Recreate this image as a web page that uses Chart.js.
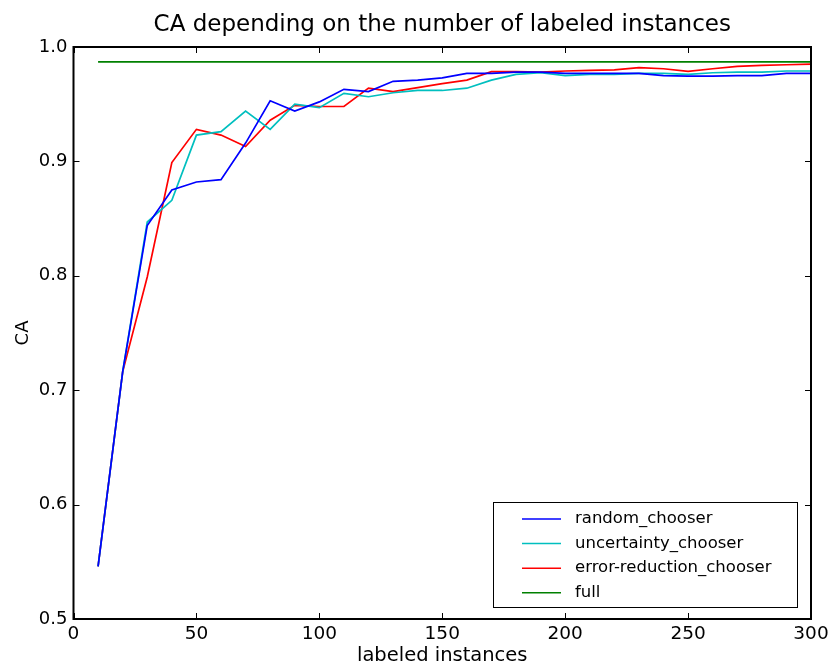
<!DOCTYPE html>
<html>
<head>
<meta charset="utf-8">
<script src="https://cdn.jsdelivr.net/npm/chart.js@4.4.0/dist/chart.umd.min.js"></script>
<style>
    html, body { margin: 0; padding: 0; background: #fff; }
</style>
</head>
<body>
<canvas id="cachart" width="833" height="669"></canvas>
<script>
"use strict";

/* data */
var instances = [10, 20, 30, 40, 50, 60, 70, 80, 90, 100,
    110, 120, 130, 140, 150, 160, 170, 180, 190, 200,
    210, 220, 230, 240, 250, 260, 270, 280, 290, 300];

var randomChooser = [0.546, 0.716, 0.844, 0.875, 0.882, 0.884, 0.916, 0.953, 0.944, 0.952,
    0.963, 0.961, 0.970, 0.971, 0.973, 0.977, 0.977, 0.978, 0.978, 0.977,
    0.977, 0.977, 0.977, 0.975, 0.9745, 0.9745, 0.975, 0.975, 0.977, 0.977];

var uncertaintyChooser = [0.546, 0.716, 0.847, 0.866, 0.923, 0.926, 0.944, 0.928, 0.950, 0.947,
    0.9595, 0.9565, 0.960, 0.962, 0.962, 0.964, 0.971, 0.976, 0.9775, 0.975,
    0.976, 0.976, 0.977, 0.977, 0.976, 0.9775, 0.978, 0.978, 0.979, 0.979];

var errorReductionChooser = [0.546, 0.716, 0.799, 0.899, 0.928, 0.923, 0.913, 0.936, 0.949, 0.948,
    0.948, 0.964, 0.961, 0.9645, 0.968, 0.971, 0.9785, 0.9785, 0.978, 0.979,
    0.9795, 0.980, 0.982, 0.981, 0.9787, 0.981, 0.983, 0.984, 0.9845, 0.985];

var fullCA = [0.987, 0.987, 0.987, 0.987, 0.987, 0.987, 0.987, 0.987, 0.987, 0.987,
    0.987, 0.987, 0.987, 0.987, 0.987, 0.987, 0.987, 0.987, 0.987, 0.987,
    0.987, 0.987, 0.987, 0.987, 0.987, 0.987, 0.987, 0.987, 0.987, 0.987];

var seriesNames = ['random_chooser', 'uncertainty_chooser', 'error-reduction_chooser', 'full'];
var seriesColors = ['#0000ff', '#00bfbf', '#ff0000', '#008000'];

var chartTitle = 'CA depending on the number of labeled instances';
var FONT = 'DejaVu Sans';

function toPoints(values) {
    return values.map(function (v, i) { return { x: instances[i], y: v }; });
}

/* matplotlib style title, frame, inward ticks and legend box */
var framePlugin = {
    id: 'frame',
    afterDatasetsDraw: function (chart) {
        var ctx = chart.ctx;
        var a = chart.chartArea;
        var xs = chart.scales.x;
        var ys = chart.scales.y;
        ctx.save();

        // title, centred over the plot area
        ctx.fillStyle = '#000';
        ctx.font = '23px "' + FONT + '"';
        ctx.textAlign = 'center';
        ctx.textBaseline = 'middle';
        ctx.fillText(chartTitle, (a.left + a.right) / 2, 25);

        ctx.strokeStyle = '#000';
        ctx.lineWidth = 1;
        ctx.beginPath();
        xs.ticks.forEach(function (t) {
            var px = Math.round(xs.getPixelForValue(t.value)) + 0.5;
            ctx.moveTo(px, a.bottom); ctx.lineTo(px, a.bottom - 6);
            ctx.moveTo(px, a.top); ctx.lineTo(px, a.top + 6);
        });
        ys.ticks.forEach(function (t) {
            var py = Math.round(ys.getPixelForValue(t.value)) + 0.5;
            ctx.moveTo(a.left, py); ctx.lineTo(a.left + 6, py);
            ctx.moveTo(a.right, py); ctx.lineTo(a.right - 6, py);
        });
        ctx.stroke();
        ctx.lineWidth = 2;
        ctx.strokeRect(a.left, a.top, a.right - a.left, a.bottom - a.top);

        // legend
        var bw = 304, bh = 105;
        var bx = a.right - 14 - bw;
        var by = a.bottom - 12 - bh;
        ctx.fillStyle = '#fff';
        ctx.fillRect(bx, by, bw, bh);
        ctx.lineWidth = 1;
        ctx.strokeRect(bx + 0.5, by + 0.5, bw, bh);
        ctx.font = '16.5px "' + FONT + '"';
        ctx.textBaseline = 'middle';
        ctx.textAlign = 'left';
        chart.data.datasets.forEach(function (ds, i) {
            var ry = by + 17 + i * 24.6;
            ctx.strokeStyle = ds.borderColor;
            ctx.lineWidth = 1.5;
            ctx.beginPath();
            ctx.moveTo(bx + 29, ry);
            ctx.lineTo(bx + 68, ry);
            ctx.stroke();
            ctx.fillStyle = '#000';
            ctx.fillText(ds.label, bx + 82, ry);
        });
        ctx.restore();
    }
};

var datasets = [randomChooser, uncertaintyChooser, errorReductionChooser, fullCA].map(function (vals, i) {
    return {
        label: seriesNames[i],
        data: toPoints(vals),
        borderColor: seriesColors[i],
        backgroundColor: seriesColors[i],
        borderWidth: 1.7,
        pointRadius: 0,
        tension: 0,
        fill: false
    };
});

var cachart = new Chart(document.getElementById('cachart').getContext('2d'), {
    type: 'line',
    data: { datasets: datasets },
    options: {
        responsive: false,
        animation: false,
        devicePixelRatio: 1,
        layout: { padding: { left: 0, right: 22, top: 47, bottom: 0 } },
        plugins: {
            legend: { display: false },
            tooltip: { enabled: false },
            title: { display: false }
        },
        scales: {
            x: {
                type: 'linear',
                min: 0,
                max: 300,
                grid: { display: false, drawTicks: false },
                border: { display: false },
                ticks: {
                    stepSize: 50,
                    color: '#000',
                    padding: 4,
                    maxRotation: 0,
                    font: { family: FONT, size: 18.5 }
                },
                title: {
                    display: true,
                    text: 'labeled instances',
                    color: '#000',
                    font: { family: FONT, size: 19.5 },
                    padding: { top: 0, bottom: 1.3 }
                },
                afterFit: function (scale) { scale.height = 50; }
            },
            y: {
                min: 0.5,
                max: 1.0,
                grid: { display: false, drawTicks: false },
                border: { display: false },
                ticks: {
                    stepSize: 0.1,
                    color: '#000',
                    padding: 6,
                    font: { family: FONT, size: 18 },
                    callback: function (v) { return v.toFixed(1); }
                },
                title: {
                    display: true,
                    text: 'CA',
                    color: '#000',
                    font: { family: FONT, size: 18 },
                    padding: { top: 12.5, bottom: 0 }
                },
                afterFit: function (scale) { scale.width = 73.5; }
            }
        }
    },
    plugins: [framePlugin]
});
</script>
</body>
</html>
